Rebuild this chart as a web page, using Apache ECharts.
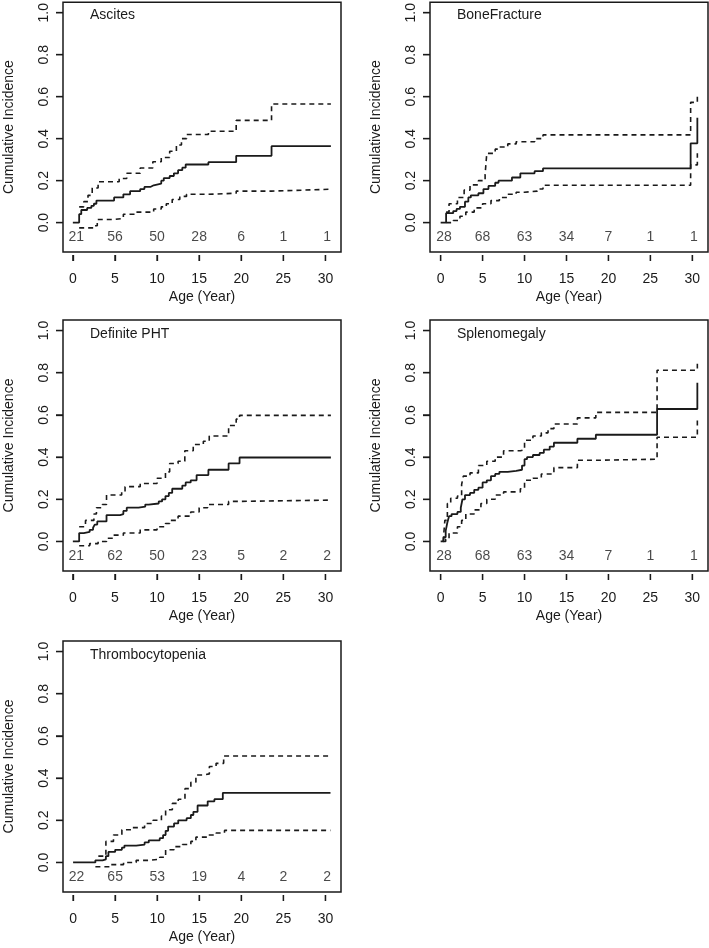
<!DOCTYPE html>
<html>
<head>
<meta charset="utf-8">
<script src="https://cdn.jsdelivr.net/npm/echarts@6/dist/echarts.min.js"></script>
<style>html,body{margin:0;padding:0;background:#fff}#c{width:709px;height:948px}</style>
</head>
<body>
<div id="c"></div>
<script>
// ---------- data ----------
const panelNames = ['Ascites', 'BoneFracture', 'Definite PHT', 'Splenomegaly', 'Thrombocytopenia'];
const xTicks = [0, 5, 10, 15, 20, 25, 30];
const yTicks = [0, 0.2, 0.4, 0.6, 0.8, 1.0];
const riskX = [0.4, 5, 10, 15, 20, 25, 30.2];

const riskAscites = [21, 56, 50, 28, 6, 1, 1];
const riskBone = [28, 68, 63, 34, 7, 1, 1];
const riskPHT = [21, 62, 50, 23, 5, 2, 2];
const riskSpleno = [28, 68, 63, 34, 7, 1, 1];
const riskThrombo = [22, 65, 53, 19, 4, 2, 2];

// Ascites
const ascitesEst = [[0,0],[0.75,0.04],[1.0,0.06],[1.7,0.07],[2.2,0.08],[2.5,0.09],[2.8,0.105],[4.9,0.12],[6.0,0.135],[6.8,0.15],[8.0,0.16],[8.5,0.17],[9.2,0.178],[9.6,0.186],[10.5,0.2],[10.8,0.212],[11.5,0.222],[12.0,0.235],[12.5,0.25],[13.0,0.262],[13.4,0.277],[16.1,0.288],[19.4,0.318],[23.6,0.364],[30.65,0.364]];
const ascitesUp = [[0.75,0.075],[1.3,0.1],[1.8,0.13],[2.3,0.165],[3.0,0.195],[5.5,0.21],[6.4,0.235],[8.0,0.26],[9.5,0.29],[10.5,0.31],[11.5,0.34],[12.3,0.37],[12.9,0.4],[13.5,0.42],[16.1,0.435],[19.4,0.487],[23.6,0.565],[30.65,0.565]];
const ascitesLow = [[0.75,-0.025],[2.6,-0.015],[2.9,0.015],[4.8,0.02],[6.0,0.04],[7.6,0.05],[9.6,0.065],[10.5,0.075],[11.1,0.09],[11.8,0.11],[12.7,0.125],[13.5,0.135],[16.1,0.14],[19.4,0.15],[23.6,0.159],[30.65,0.159]];

// BoneFracture
const boneEst = [[0,0],[0.65,0.045],[1.5,0.055],[1.9,0.065],[2.3,0.075],[2.9,0.1],[3.3,0.12],[3.6,0.13],[4.5,0.14],[5.1,0.16],[5.7,0.175],[6.5,0.19],[6.9,0.2],[8.5,0.215],[9.5,0.235],[11.2,0.245],[12.2,0.258],[29.8,0.378],[30.6,0.5]];
const boneUp = [[0.65,0.05],[1.0,0.09],[2.0,0.12],[2.8,0.155],[3.5,0.18],[4.5,0.2],[5.3,0.23],[5.5,0.33],[6.5,0.35],[7.0,0.36],[8.0,0.375],[9.0,0.385],[11.2,0.4],[12.2,0.418],[29.8,0.573],[30.6,0.61]];
const boneLow = [[0.65,0.0],[1.5,0.01],[2.3,0.03],[3.0,0.05],[4.0,0.07],[5.0,0.09],[6.0,0.105],[7.0,0.12],[8.0,0.135],[9.0,0.145],[10.0,0.15],[11.5,0.16],[12.2,0.178],[29.8,0.275],[30.6,0.33]];

// Definite PHT
const phtEst = [[0,0],[0.75,0.04],[1.3,0.045],[2.0,0.055],[2.4,0.065],[2.6,0.08],[2.9,0.095],[4.0,0.125],[5.6,0.13],[6.0,0.145],[6.4,0.16],[7.8,0.165],[8.6,0.175],[9.0,0.18],[10.2,0.19],[10.6,0.2],[11.0,0.215],[11.4,0.23],[11.8,0.25],[13.0,0.265],[13.4,0.28],[14.0,0.29],[14.7,0.315],[16.1,0.34],[18.5,0.37],[19.8,0.398],[30.65,0.398]];
const phtUp = [[0.75,0.07],[1.5,0.1],[2.5,0.13],[2.8,0.16],[3.5,0.175],[4.0,0.22],[5.8,0.235],[6.2,0.26],[8.0,0.275],[10.0,0.3],[11.0,0.33],[11.5,0.37],[12.5,0.38],[13.3,0.43],[14.3,0.46],[15.5,0.475],[16.2,0.5],[18.5,0.55],[19.4,0.58],[19.8,0.598],[30.65,0.598]];
const phtLow = [[0.75,-0.02],[2.0,-0.01],[3.0,0.0],[4.0,0.015],[4.8,0.03],[6.0,0.04],[8.0,0.055],[10.0,0.07],[11.0,0.085],[11.5,0.1],[12.5,0.12],[14.0,0.14],[15.0,0.16],[16.0,0.175],[18.5,0.19],[19.8,0.196],[30.65,0.196]];

// Splenomegaly
const splenoEst = [[0,0],[0.35,0.02],[0.6,0.05],[0.8,0.09],[1.0,0.12],[1.3,0.13],[2.0,0.14],[2.4,0.16],[2.6,0.2],[2.9,0.22],[3.5,0.23],[4.0,0.245],[4.5,0.255],[5.0,0.28],[5.5,0.29],[6.0,0.31],[6.5,0.32],[7.0,0.33],[8.0,0.335],[9.0,0.34],[9.7,0.36],[10.0,0.39],[10.3,0.4],[11.0,0.41],[11.8,0.42],[12.3,0.435],[13.0,0.45],[13.5,0.468],[16.3,0.487],[18.5,0.506],[25.8,0.628],[30.6,0.752]];
const splenoUp = [[0.3,0.0],[0.5,0.1],[0.8,0.18],[1.2,0.205],[2.0,0.215],[2.5,0.27],[2.7,0.31],[3.5,0.325],[4.5,0.36],[5.5,0.38],[6.5,0.4],[7.5,0.43],[9.5,0.435],[10.0,0.48],[11.0,0.5],[12.0,0.515],[12.8,0.535],[13.5,0.557],[16.3,0.586],[18.5,0.612],[25.8,0.812],[30.6,0.842]];
const splenoLow = [[0.3,0.0],[0.6,0.01],[1.0,0.04],[2.0,0.07],[2.5,0.1],[3.0,0.13],[4.0,0.15],[4.8,0.18],[5.5,0.2],[6.5,0.22],[7.5,0.235],[9.5,0.25],[10.0,0.29],[11.0,0.3],[12.0,0.32],[13.5,0.35],[16.3,0.385],[18.5,0.39],[25.8,0.494],[30.6,0.59]];

// Thrombocytopenia
const thromboEst = [[0,0],[2.65,0.01],[3.5,0.015],[3.9,0.03],[4.2,0.05],[5.0,0.06],[5.8,0.07],[6.1,0.08],[7.5,0.085],[8.5,0.095],[9.0,0.105],[10.3,0.115],[10.7,0.13],[11.0,0.15],[11.3,0.17],[12.0,0.185],[12.5,0.2],[13.5,0.21],[14.0,0.225],[14.3,0.24],[14.8,0.27],[16.0,0.29],[16.8,0.3],[17.8,0.33],[30.6,0.33]];
const thromboUp = [[3.0,0.03],[3.9,0.1],[4.8,0.13],[5.8,0.155],[7.0,0.165],[8.5,0.185],[9.5,0.2],[10.5,0.22],[11.0,0.25],[11.8,0.28],[12.5,0.3],[13.3,0.35],[14.0,0.38],[14.6,0.415],[15.6,0.42],[16.2,0.455],[17.0,0.47],[17.9,0.505],[30.6,0.505]];
const thromboLow = [[2.65,-0.02],[4.5,-0.01],[6.0,0.0],[7.5,0.01],[9.0,0.015],[10.3,0.025],[11.0,0.06],[12.0,0.075],[13.0,0.085],[14.0,0.1],[14.6,0.12],[16.0,0.13],[17.0,0.14],[18.0,0.152],[30.6,0.152]];

// ---------- layout ----------
const YMIN = -0.14, YMAX = 1.05;
const panels = [
  {name: panelNames[0], est: ascitesEst, up: ascitesUp, low: ascitesLow, risk: riskAscites, left: 63, top: 1, xmin: -1.17, xmax: 31.85},
  {name: panelNames[1], est: boneEst, up: boneUp, low: boneLow, risk: riskBone, left: 430, top: 1, xmin: -1.27, xmax: 31.87},
  {name: panelNames[2], est: phtEst, up: phtUp, low: phtLow, risk: riskPHT, left: 63, top: 320, xmin: -1.17, xmax: 31.85},
  {name: panelNames[3], est: splenoEst, up: splenoUp, low: splenoLow, risk: riskSpleno, left: 430, top: 320, xmin: -1.27, xmax: 31.87},
  {name: panelNames[4], est: thromboEst, up: thromboUp, low: thromboLow, risk: riskThrombo, left: 63, top: 641, xmin: -1.2, xmax: 31.85}
];

const FONT = 'Liberation Sans, Arial, Helvetica, sans-serif';
const INK = '#1a1a1a';
const W = 278, H = 251;

const grid = [], xAxis = [], yAxis = [], series = [], title = [];
panels.forEach((p, i) => {
  grid.push({left: p.left, top: p.top, width: W, height: H, show: true, borderColor: INK, borderWidth: 1.5});
  title.push({text: p.name, left: p.left + 22, top: p.top + 2, textStyle: {fontFamily: FONT, fontSize: 14, fontWeight: 'normal', color: INK}});
  xAxis.push({
    type: 'value', gridIndex: i, min: p.xmin, max: p.xmax, offset: 3, position: 'bottom',
    axisLine: {show: false, onZero: false, lineStyle: {color: INK}},
    axisTick: {show: true, inside: false, length: 6, customValues: xTicks, lineStyle: {color: INK, width: 1.3}},
    axisLabel: {customValues: xTicks, margin: 17, fontFamily: FONT, fontSize: 14, color: INK},
    splitLine: {show: false},
    name: 'Age (Year)', nameLocation: 'middle', nameGap: 35,
    nameTextStyle: {fontFamily: FONT, fontSize: 14, color: INK}
  });
  yAxis.push({
    type: 'value', gridIndex: i, min: YMIN, max: YMAX, position: 'left',
    axisLine: {show: false, onZero: false, lineStyle: {color: INK}},
    axisTick: {show: true, inside: false, length: 7, customValues: yTicks, lineStyle: {color: INK, width: 1.3}},
    axisLabel: {customValues: yTicks, rotate: 90, margin: 12, fontFamily: FONT, fontSize: 14, color: INK,
      formatter: v => Number(v).toFixed(1)},
    splitLine: {show: false},
    name: 'Cumulative Incidence', nameLocation: 'middle', nameGap: 47,
    nameTextStyle: {fontFamily: FONT, fontSize: 14, color: INK}
  });
  const base = {type: 'line', xAxisIndex: i, yAxisIndex: i, step: 'end', showSymbol: false, symbol: 'none', silent: true};
  series.push(Object.assign({}, base, {data: p.est, lineStyle: {color: INK, width: 1.8, type: 'solid'}}));
  series.push(Object.assign({}, base, {data: p.up, lineStyle: {color: INK, width: 1.6, type: [5, 4]}}));
  series.push(Object.assign({}, base, {data: p.low, lineStyle: {color: INK, width: 1.6, type: [5, 4]}}));
  series.push({
    type: 'scatter', xAxisIndex: i, yAxisIndex: i, symbolSize: 0, silent: true,
    data: riskX.map((x, k) => [x, -0.07, p.risk[k]]),
    label: {show: true, position: 'inside', formatter: d => String(d.value[2]), fontFamily: FONT, fontSize: 14, color: INK}
  });
  // R-style tick marks placed through the axis scales (x: below the box with a small gap; y: left of the box)
  series.push({
    type: 'custom', xAxisIndex: i, yAxisIndex: i, silent: true, clip: false,
    encode: {x: 0, y: 1},
    data: xTicks.map(x => [x, YMIN]),
    renderItem: (params, api) => {
      const c = api.coord([api.value(0), api.value(1)]);
      return {type: 'line', shape: {x1: c[0], y1: c[1] + 3, x2: c[0], y2: c[1] + 9}, style: {stroke: INK, lineWidth: 1.3}};
    }
  });
  series.push({
    type: 'custom', xAxisIndex: i, yAxisIndex: i, silent: true, clip: false,
    encode: {x: 0, y: 1},
    data: yTicks.map(y => [p.xmin, y]),
    renderItem: (params, api) => {
      const c = api.coord([api.value(0), api.value(1)]);
      return {type: 'line', shape: {x1: c[0] - 7, y1: c[1], x2: c[0], y2: c[1]}, style: {stroke: INK, lineWidth: 1.3}};
    }
  });
});

const chart = echarts.init(document.getElementById('c'));
chart.setOption({animation: false, title, grid, xAxis, yAxis, series});
</script>
</body>
</html>
